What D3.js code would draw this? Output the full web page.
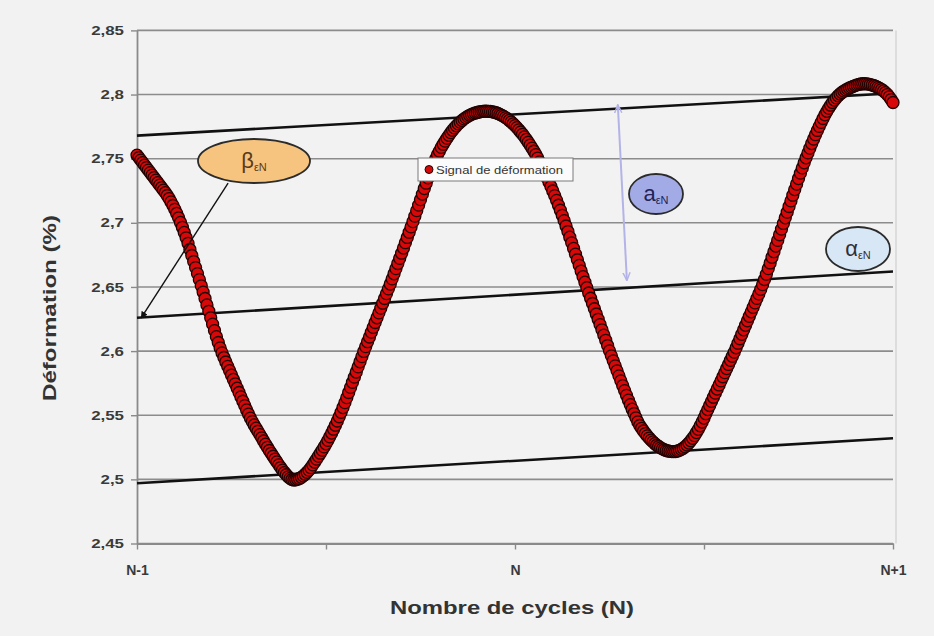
<!DOCTYPE html>
<html><head><meta charset="utf-8">
<script src="https://cdn.jsdelivr.net/npm/d3@7"></script>
<style>
body{margin:0;background:#f2f2f2;}
svg{display:block;font-family:"Liberation Sans",Arial,sans-serif;}
</style>
</head><body>
<svg id="chart" width="934" height="636"></svg>
<script>
// ---------- DATA ----------
const yTickValues = [2.45, 2.5, 2.55, 2.6, 2.65, 2.7, 2.75, 2.8, 2.85];
const yTickLabels = ["2,45", "2,5", "2,55", "2,6", "2,65", "2,7", "2,75", "2,8", "2,85"];
const xTickValues = [0, 0.5, 1, 1.5, 2];
const xTickLabels = ["N-1", "", "N", "", "N+1"];
const xTitle = "Nombre de cycles (N)";
const yTitle = "Déformation (%)";
const seriesName = "Signal de déformation";

// strain signal, uniformly sampled over two cycles (N-1 .. N+1)
const strainSignal = [
2.7528,2.7508,2.7489,2.7469,2.7450,2.7430,2.7411,2.7391,2.7372,2.7352,2.7333,2.7313,2.7294,2.7274,2.7255,
2.7235,2.7213,2.7189,2.7163,2.7135,2.7105,2.7073,2.7039,2.7003,2.6965,2.6925,2.6883,2.6840,2.6792,2.6745,
2.6698,2.6651,2.6604,2.6557,2.6509,2.6460,2.6410,2.6360,2.6310,2.6260,2.6210,2.6160,2.6112,2.6067,2.6025,
2.5986,2.5950,2.5915,2.5881,2.5847,2.5813,2.5779,2.5745,2.5711,2.5677,2.5643,2.5609,2.5575,2.5541,2.5509,
2.5478,2.5450,2.5424,2.5399,2.5374,2.5349,2.5324,2.5299,2.5274,2.5250,2.5225,2.5203,2.5180,2.5158,2.5136,
2.5113,2.5092,2.5072,2.5053,2.5036,2.5020,2.5008,2.4999,2.4995,
2.4997,2.5001,2.5007,2.5016,2.5027,2.5040,2.5055,2.5072,2.5091,2.5113,2.5135,2.5158,2.5181,2.5204,2.5228,
2.5253,2.5277,2.5304,2.5332,2.5361,2.5391,2.5422,2.5455,2.5488,2.5523,2.5560,2.5598,2.5637,2.5677,2.5717,
2.5757,2.5797,2.5837,2.5877,2.5917,2.5957,2.5997,2.6035,2.6073,2.6110,2.6148,2.6185,2.6223,2.6260,2.6298,
2.6335,2.6373,2.6410,2.6448,2.6485,2.6523,2.6563,2.6603,2.6643,2.6683,2.6723,2.6763,2.6804,2.6845,2.6886,
2.6927,2.6968,2.7009,2.7052,2.7095,2.7138,2.7181,2.7224,2.7267,2.7309,2.7350,2.7390,2.7428,2.7464,2.7498,
2.7530,2.7559,2.7588,2.7613,2.7637,2.7660,2.7682,2.7703,2.7722,2.7740,2.7756,2.7771,2.7785,2.7798,2.7810,
2.7820,2.7830,2.7838,2.7845,2.7851,2.7856,2.7860,2.7864,2.7867,2.7869,2.7870,2.7870,
2.7869,2.7868,2.7865,2.7862,2.7858,2.7852,2.7845,2.7838,2.7830,2.7820,2.7810,2.7798,2.7786,2.7772,2.7758,
2.7742,2.7725,2.7708,2.7690,2.7670,2.7650,2.7628,2.7606,2.7582,2.7558,2.7532,2.7505,2.7475,2.7445,2.7414,
2.7382,2.7350,2.7317,2.7283,2.7248,2.7212,2.7175,2.7137,2.7098,2.7058,2.7017,2.6975,2.6932,2.6888,2.6844,
2.6800,2.6756,2.6712,2.6668,2.6624,2.6580,2.6537,2.6494,2.6453,2.6412,2.6371,2.6330,2.6289,2.6248,2.6207,
2.6166,2.6125,2.6084,2.6043,2.6002,2.5963,2.5924,2.5885,2.5846,2.5807,2.5768,2.5730,2.5692,2.5655,2.5618,
2.5582,2.5547,2.5513,2.5480,2.5448,2.5420,2.5398,2.5377,2.5357,2.5339,2.5322,2.5306,2.5292,2.5278,2.5266,
2.5256,2.5246,2.5238,2.5231,2.5225,2.5221,2.5218,2.5216,2.5216,
2.5217,2.5221,2.5226,2.5234,2.5243,2.5254,2.5268,2.5283,2.5301,2.5320,2.5341,2.5365,2.5390,2.5418,2.5447,
2.5478,2.5512,2.5544,2.5576,2.5608,2.5640,2.5672,2.5704,2.5736,2.5768,2.5800,2.5832,2.5864,2.5896,2.5928,
2.5960,2.5992,2.6026,2.6061,2.6096,2.6131,2.6166,2.6201,2.6236,2.6271,2.6306,2.6341,2.6376,2.6411,2.6446,
2.6481,2.6518,2.6558,2.6600,2.6643,2.6687,2.6731,2.6775,2.6819,2.6863,2.6907,2.6951,2.6995,2.7039,2.7083,
2.7127,2.7171,2.7215,2.7259,2.7302,2.7345,2.7387,2.7428,2.7468,2.7507,2.7545,2.7582,2.7618,2.7653,2.7687,
2.7720,2.7752,2.7783,2.7813,2.7842,2.7869,2.7894,2.7917,2.7938,2.7957,2.7974,2.7990,2.8004,2.8016,2.8027,
2.8036,2.8044,2.8051,2.8058,2.8064,2.8070,2.8075,2.8079,2.8082,2.8084,2.8084,2.8083,2.8081,2.8078,2.8074,
2.8069,2.8063,2.8056,2.8048,2.8039,2.8028,2.8015,2.8000,2.7982,2.7961,2.7938
];

// envelope lines (start / end, in cycle & strain units)
const upperEnvelope  = [[0, 2.768], [2, 2.801]];
const middleEnvelope = [[0, 2.626], [2, 2.662]];
const lowerEnvelope  = [[0, 2.497], [2, 2.532]];
// amplitude arrow and beta pointer
const amplitudeArrow = [[1.272, 2.792], [1.296, 2.655]];
const betaPointer    = [[0.241, 2.731], [0.011, 2.6258]];

// ---------- CHART ----------
const W = 934, H = 636;
const svg = d3.select("#chart");
const plot = {left: 137, right: 893, top: 30.4, bottom: 543.5};
const x = d3.scaleLinear().domain([0, 2]).range([plot.left, plot.right]);
const y = d3.scaleLinear().domain([2.45, 2.85]).range([plot.bottom, plot.top]);
const idx = d3.scaleLinear().domain([0, strainSignal.length - 1]).range([0, 2]);

svg.append("rect").attr("width", W).attr("height", H).attr("fill", "#f2f2f2");

const defs = svg.append("defs");
defs.append("marker").attr("id", "arrBlack").attr("viewBox", "0 0 10 10")
  .attr("refX", 9).attr("refY", 5).attr("markerWidth", 7).attr("markerHeight", 7)
  .attr("orient", "auto").attr("markerUnits", "userSpaceOnUse")
  .append("path").attr("d", "M0,0 L10,5 L0,10 z").attr("fill", "#111");
defs.append("marker").attr("id", "arrLav").attr("viewBox", "0 0 10 10")
  .attr("refX", 9).attr("refY", 5).attr("markerWidth", 9).attr("markerHeight", 9)
  .attr("orient", "auto-start-reverse").attr("markerUnits", "userSpaceOnUse")
  .append("path").attr("d", "M0,1 L9,5 L0,9").attr("fill", "none")
  .attr("stroke", "#b3b3e8").attr("stroke-width", 1.6);

// gridlines
svg.append("g").selectAll("line").data(yTickValues).join("line")
  .attr("x1", plot.left).attr("x2", plot.right)
  .attr("y1", d => y(d)).attr("y2", d => y(d))
  .attr("stroke", "#8c8c8c").attr("stroke-width", 1.6);
// plot right border
svg.append("line").attr("x1", plot.right + 3).attr("x2", plot.right + 3)
  .attr("y1", plot.top).attr("y2", plot.bottom).attr("stroke", "#cfcfcf").attr("stroke-width", 1.2);

// axes
const yAxis = d3.axisLeft(y).tickValues(yTickValues)
  .tickFormat((d, i) => yTickLabels[i]).tickSize(6).tickSizeOuter(0).tickPadding(8);
const gy = svg.append("g").attr("transform", `translate(${plot.left},0)`).call(yAxis);
const xAxis = d3.axisBottom(x).tickValues(xTickValues)
  .tickFormat((d, i) => xTickLabels[i]).tickSize(6).tickSizeOuter(0).tickPadding(16);
const gx = svg.append("g").attr("transform", `translate(0,${plot.bottom})`).call(xAxis);
[gx, gy].forEach(g => {
  g.select(".domain").attr("stroke", "#8a8a8a").attr("stroke-width", 1.8);
  g.selectAll(".tick line").attr("stroke", "#8a8a8a").attr("stroke-width", 1.4);
  g.selectAll(".tick text").attr("fill", "#3a3a3a").attr("font-size", 13)
    .attr("font-weight", "bold").attr("font-family", "'Liberation Sans', Arial, sans-serif");
});
gy.selectAll(".tick text").attr("transform", "scale(1.3,1)").attr("x", -10);
gx.selectAll(".tick text").attr("font-size", 14).attr("dy", "0.71em");

// envelope lines
const lineGen = d3.line().x(d => x(d[0])).y(d => y(d[1]));
[upperEnvelope, middleEnvelope, lowerEnvelope].forEach(env => {
  svg.append("path").attr("d", lineGen(env)).attr("fill", "none")
    .attr("stroke", "#111").attr("stroke-width", 2.6);
});

// markers
svg.append("g").selectAll("circle").data(strainSignal).join("circle")
  .attr("cx", (d, i) => x(idx(i))).attr("cy", d => y(d)).attr("r", 6)
  .attr("fill", "#d80808").attr("stroke", "#220303").attr("stroke-width", 1.3);

// amplitude arrow
svg.append("path").attr("d", lineGen(amplitudeArrow)).attr("fill", "none")
  .attr("stroke", "#b3b3e8").attr("stroke-width", 2)
  .attr("marker-start", "url(#arrLav)").attr("marker-end", "url(#arrLav)");

// beta pointer
svg.append("path").attr("d", lineGen(betaPointer)).attr("fill", "none")
  .attr("stroke", "#111").attr("stroke-width", 1.4).attr("marker-end", "url(#arrBlack)");

// ellipse callouts
function callout(cx, cy, rx, ry, fill, main, sub, mainSize, color) {
  const g = svg.append("g");
  g.append("ellipse").attr("cx", cx).attr("cy", cy).attr("rx", rx).attr("ry", ry)
    .attr("fill", fill).attr("stroke", "#2b2b2b").attr("stroke-width", 1.8);
  const t = g.append("text").attr("x", cx).attr("y", cy + mainSize * 0.32)
    .attr("text-anchor", "middle").attr("fill", color);
  t.append("tspan").attr("font-size", mainSize).text(main);
  t.append("tspan").attr("font-size", mainSize * 0.5).attr("dy", mainSize * 0.12).text(sub);
}
callout(254, 161, 56, 22, "#f6c47e", "β", "εN", 22, "#5b3a1c");
callout(656, 194, 27, 20, "#a3abe6", "a", "εN", 22, "#232356");
callout(858, 249, 32, 22, "#d8e7f6", "α", "εN", 22, "#2f2f3a");

// legend
const lg = svg.append("g");
lg.append("rect").attr("x", 418).attr("y", 158).attr("width", 155).attr("height", 23)
  .attr("fill", "#fbfbfb").attr("stroke", "#7a7a7a").attr("stroke-width", 1);
lg.append("circle").attr("cx", 429).attr("cy", 169.5).attr("r", 4)
  .attr("fill", "#d80808").attr("stroke", "#220303").attr("stroke-width", 1);
lg.append("text").attr("x", 436).attr("y", 173.5).attr("font-size", 11).attr("fill", "#333")
  .attr("textLength", 127).attr("lengthAdjust", "spacingAndGlyphs").text(seriesName);

// axis titles
svg.append("text").attr("x", 512).attr("y", 614).attr("text-anchor", "middle")
  .attr("font-size", 19).attr("font-weight", "bold").attr("fill", "#333")
  .attr("textLength", 244).attr("lengthAdjust", "spacingAndGlyphs").text(xTitle);
svg.append("text").attr("transform", "translate(56,308) rotate(-90)").attr("text-anchor", "middle")
  .attr("font-size", 19).attr("font-weight", "bold").attr("fill", "#333")
  .attr("textLength", 186).attr("lengthAdjust", "spacingAndGlyphs").text(yTitle);
</script>
</body></html>
